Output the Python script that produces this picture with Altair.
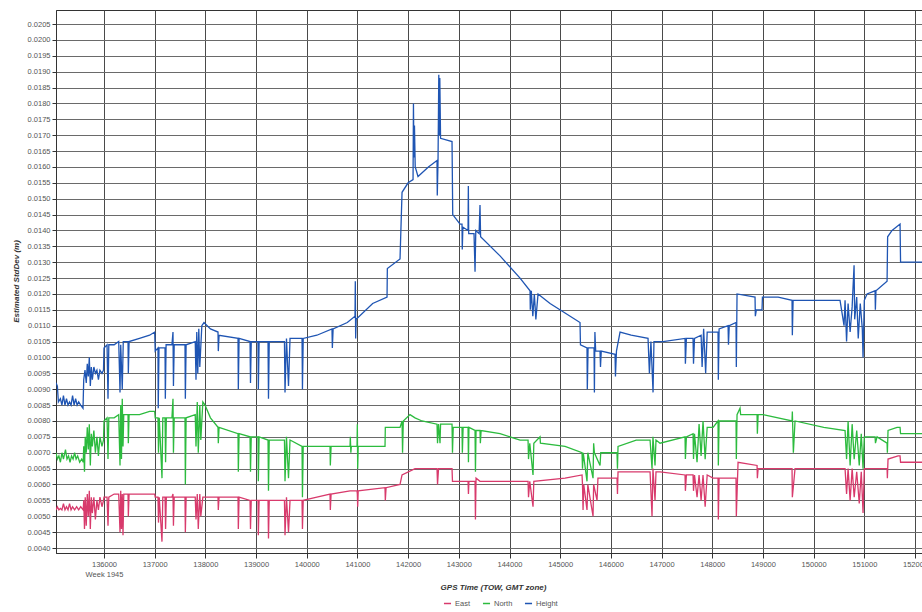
import altair as alt
import pandas as pd

# GPS time of week (s) and estimated standard deviation (m)
height = [
    (135053, 0.0092), (135080, 0.0091), (135100, 0.0086), (135140, 0.0087), (135170, 0.0085),
    (135200, 0.0088), (135230, 0.0085), (135260, 0.0087), (135290, 0.0085), (135320, 0.0086),
    (135350, 0.0085), (135380, 0.0088), (135410, 0.0085), (135440, 0.0087), (135470, 0.0085),
    (135500, 0.0086), (135540, 0.0085), (135586, 0.0084), (135600, 0.0093), (135625, 0.0096),
    (135650, 0.0092), (135670, 0.0098), (135690, 0.0094), (135710, 0.0100), (135730, 0.0091),
    (135750, 0.0097), (135770, 0.0093), (135800, 0.0097), (135830, 0.0095), (135860, 0.0096),
    (135890, 0.0093), (135920, 0.0096), (135960, 0.0095), (135990, 0.0096), (136000, 0.0103),
    (136060, 0.0104), (136079, 0.0087), (136095, 0.0104), (136200, 0.0104), (136290, 0.0105),
    (136316, 0.0089), (136330, 0.0104), (136360, 0.0090), (136380, 0.0105), (136474, 0.0105),
    (136480, 0.0095), (136495, 0.0105), (136700, 0.0106), (136900, 0.0107), (137000, 0.0108),
    (137010, 0.0102), (137065, 0.0103), (137070, 0.0084), (137085, 0.0103), (137204, 0.0103),
    (137210, 0.0087), (137225, 0.0104), (137340, 0.0104), (137361, 0.0108), (137370, 0.0091),
    (137385, 0.0104), (137598, 0.0104), (137605, 0.0087), (137620, 0.0104), (137800, 0.0105),
    (137815, 0.0093), (137830, 0.0108), (137850, 0.0095), (137870, 0.0109), (137890, 0.0097),
    (137930, 0.0110), (137973, 0.0111), (138100, 0.0109), (138249, 0.0108), (138255, 0.0102),
    (138270, 0.0107), (138644, 0.0106), (138650, 0.0090), (138665, 0.0106), (138881, 0.0105),
    (138890, 0.0092), (138905, 0.0105), (139038, 0.0105), (139045, 0.0090), (139060, 0.0105),
    (139236, 0.0105), (139245, 0.0087), (139260, 0.0105), (139560, 0.0105), (139571, 0.0089),
    (139600, 0.0106), (139640, 0.0091), (139670, 0.0106), (139907, 0.0106), (139915, 0.0090),
    (139930, 0.0106), (140200, 0.0107), (140498, 0.0109), (140505, 0.0103), (140520, 0.0109),
    (140800, 0.0111), (140952, 0.0113), (140958, 0.0124), (140965, 0.0106), (140975, 0.0112),
    (141300, 0.0117), (141584, 0.0119), (141590, 0.0128), (141840, 0.0131), (141880, 0.0152),
    (142000, 0.0155), (142097, 0.0156), (142105, 0.0180), (142115, 0.0163), (142125, 0.0173),
    (142140, 0.0160), (142195, 0.0157), (142400, 0.0160), (142570, 0.0162), (142575, 0.0151),
    (142590, 0.0162), (142605, 0.0189), (142615, 0.0170), (142625, 0.0188), (142640, 0.0169),
    (142866, 0.0168), (142880, 0.0145), (143024, 0.0142), (143063, 0.0142), (143068, 0.0134),
    (143080, 0.0141), (143182, 0.0140), (143188, 0.0154), (143195, 0.0139), (143300, 0.0139),
    (143320, 0.0127), (143335, 0.0140), (143400, 0.0139), (143418, 0.0148), (143430, 0.0138),
    (143813, 0.0132), (144208, 0.0125), (144405, 0.0121), (144410, 0.0115), (144430, 0.0121),
    (144460, 0.0113), (144490, 0.0120), (144520, 0.0112), (144563, 0.0120), (144800, 0.0117),
    (145096, 0.0114), (145391, 0.0111), (145400, 0.0104), (145529, 0.0103), (145535, 0.0090),
    (145550, 0.0103), (145668, 0.0103), (145675, 0.0089), (145685, 0.0108), (145700, 0.0102),
    (145786, 0.0102), (145795, 0.0097), (145810, 0.0102), (146082, 0.0101), (146090, 0.0094),
    (146110, 0.0102), (146181, 0.0108), (146400, 0.0107), (146733, 0.0106), (146760, 0.0095),
    (146790, 0.0105), (146832, 0.0089), (146850, 0.0105), (147029, 0.0105), (147463, 0.0106),
    (147470, 0.0098), (147490, 0.0106), (147621, 0.0106), (147630, 0.0098), (147650, 0.0106),
    (147780, 0.0107), (147800, 0.0097), (147830, 0.0109), (147870, 0.0095), (147900, 0.0108),
    (147956, 0.0108), (148114, 0.0108), (148120, 0.0093), (148135, 0.0109), (148312, 0.0110),
    (148320, 0.0104), (148335, 0.0110), (148469, 0.0111), (148475, 0.0097), (148489, 0.0120),
    (148844, 0.0119), (148850, 0.0113), (148870, 0.0115), (148982, 0.0115), (148990, 0.0119),
    (149300, 0.0119), (149574, 0.0118), (149580, 0.0107), (149595, 0.0118), (150200, 0.0118),
    (150521, 0.0118), (150600, 0.0110), (150620, 0.0118), (150650, 0.0105), (150680, 0.0117),
    (150720, 0.0108), (150760, 0.0116), (150798, 0.0129), (150810, 0.0112), (150850, 0.0119),
    (150880, 0.0106), (150920, 0.0117), (150960, 0.0109), (150975, 0.0100), (151000, 0.0118),
    (151054, 0.0120), (151212, 0.0121), (151218, 0.0115), (151230, 0.0121), (151449, 0.0124),
    (151460, 0.0138), (151547, 0.0140), (151705, 0.0142), (151715, 0.0130), (152139, 0.0130),
]

north = [
    (135053, 0.0070), (135080, 0.0068), (135110, 0.0069), (135140, 0.0067), (135170, 0.0070),
    (135200, 0.0068), (135240, 0.0071), (135270, 0.0068), (135300, 0.0069), (135330, 0.0067),
    (135360, 0.0069), (135390, 0.0068), (135420, 0.0070), (135450, 0.0068), (135480, 0.0069),
    (135520, 0.0067), (135560, 0.0068), (135590, 0.0067), (135600, 0.0072), (135615, 0.0064),
    (135630, 0.0075), (135650, 0.0070), (135670, 0.0078), (135690, 0.0071), (135710, 0.0079),
    (135730, 0.0066), (135750, 0.0076), (135770, 0.0072), (135800, 0.0077), (135830, 0.0070),
    (135860, 0.0075), (135890, 0.0069), (135920, 0.0075), (135960, 0.0072), (135990, 0.0074),
    (136000, 0.0080), (136060, 0.0081), (136079, 0.0068), (136095, 0.0081), (136200, 0.0081),
    (136290, 0.0082), (136316, 0.0066), (136330, 0.0085), (136345, 0.0068), (136360, 0.0087),
    (136375, 0.0072), (136390, 0.0082), (136474, 0.0082), (136480, 0.0073), (136495, 0.0082),
    (136700, 0.0082), (136900, 0.0083), (137000, 0.0083), (137010, 0.0081), (137065, 0.0081),
    (137075, 0.0070), (137090, 0.0081), (137144, 0.0062), (137160, 0.0081), (137204, 0.0081),
    (137215, 0.0067), (137230, 0.0081), (137340, 0.0081), (137361, 0.0087), (137370, 0.0070),
    (137385, 0.0081), (137598, 0.0081), (137605, 0.0060), (137620, 0.0081), (137800, 0.0082),
    (137815, 0.0072), (137840, 0.0086), (137860, 0.0070), (137890, 0.0085), (137910, 0.0074),
    (137950, 0.0086), (137993, 0.0085), (138100, 0.0081), (138249, 0.0078), (138255, 0.0073),
    (138270, 0.0078), (138644, 0.0076), (138650, 0.0064), (138665, 0.0076), (138881, 0.0075),
    (138890, 0.0064), (138905, 0.0075), (139038, 0.0075), (139045, 0.0061), (139060, 0.0075),
    (139236, 0.0074), (139245, 0.0058), (139260, 0.0074), (139560, 0.0074), (139571, 0.0061),
    (139600, 0.0075), (139640, 0.0062), (139670, 0.0074), (139907, 0.0072), (139915, 0.0056),
    (139930, 0.0072), (140200, 0.0072), (140459, 0.0072), (140465, 0.0066), (140480, 0.0072),
    (140854, 0.0072), (140860, 0.0075), (140870, 0.0070), (140880, 0.0072), (140992, 0.0072),
    (140998, 0.0079), (141005, 0.0065), (141015, 0.0072), (141544, 0.0072), (141550, 0.0078),
    (141840, 0.0078), (141880, 0.0080), (141890, 0.0070), (141905, 0.0080), (142037, 0.0082),
    (142136, 0.0081), (142274, 0.0080), (142570, 0.0079), (142580, 0.0073), (142600, 0.0079),
    (142629, 0.0073), (142640, 0.0079), (142866, 0.0079), (142875, 0.0070), (142890, 0.0078),
    (143063, 0.0078), (143070, 0.0070), (143085, 0.0078), (143182, 0.0078), (143190, 0.0067),
    (143200, 0.0078), (143320, 0.0077), (143328, 0.0064), (143340, 0.0077), (143418, 0.0077),
    (143425, 0.0073), (143440, 0.0077), (143813, 0.0076), (144208, 0.0074), (144366, 0.0074),
    (144375, 0.0068), (144400, 0.0073), (144464, 0.0063), (144480, 0.0073), (144602, 0.0075),
    (144610, 0.0073), (145096, 0.0072), (145431, 0.0070), (145440, 0.0065), (145455, 0.0070),
    (145529, 0.0061), (145545, 0.0070), (145648, 0.0062), (145660, 0.0073), (145675, 0.0070),
    (145786, 0.0066), (145800, 0.0070), (146121, 0.0070), (146130, 0.0065), (146141, 0.0072),
    (146500, 0.0074), (146773, 0.0074), (146812, 0.0065), (146830, 0.0075), (146871, 0.0066),
    (146890, 0.0074), (146970, 0.0073), (147463, 0.0075), (147470, 0.0068), (147490, 0.0075),
    (147621, 0.0076), (147630, 0.0068), (147650, 0.0076), (147700, 0.0067), (147740, 0.0079),
    (147780, 0.0069), (147818, 0.0080), (147860, 0.0068), (147900, 0.0078), (148016, 0.0078),
    (148114, 0.0080), (148120, 0.0066), (148135, 0.0080), (148312, 0.0080), (148469, 0.0080),
    (148475, 0.0068), (148489, 0.0082), (148548, 0.0084), (148560, 0.0082), (148884, 0.0082),
    (148890, 0.0076), (148905, 0.0082), (149002, 0.0082), (149574, 0.0080), (149580, 0.0083),
    (149600, 0.0070), (149633, 0.0080), (150200, 0.0078), (150620, 0.0077), (150650, 0.0068),
    (150680, 0.0080), (150720, 0.0066), (150760, 0.0079), (150800, 0.0068), (150850, 0.0077),
    (150900, 0.0066), (150940, 0.0076), (150975, 0.0065), (151000, 0.0075), (151054, 0.0075),
    (151212, 0.0075), (151220, 0.0073), (151251, 0.0075), (151449, 0.0073), (151455, 0.0070),
    (151468, 0.0077), (151646, 0.0078), (151705, 0.0078), (151715, 0.0076), (152139, 0.0076),
]

east = [
    (135053, 0.0052), (135080, 0.0053), (135110, 0.0052), (135140, 0.00525), (135170, 0.0052),
    (135200, 0.0054), (135230, 0.0052), (135260, 0.0053), (135290, 0.0052), (135320, 0.0054),
    (135350, 0.0052), (135380, 0.0053), (135420, 0.0052), (135460, 0.0053), (135500, 0.0052),
    (135540, 0.0053), (135590, 0.0052), (135600, 0.0055), (135615, 0.0046), (135630, 0.0056),
    (135650, 0.0047), (135670, 0.0057), (135690, 0.0050), (135710, 0.0058), (135730, 0.0046),
    (135750, 0.0056), (135770, 0.0051), (135800, 0.0056), (135830, 0.0049), (135860, 0.0055),
    (135890, 0.0052), (135920, 0.0056), (135960, 0.0053), (135990, 0.0055), (136000, 0.0056),
    (136060, 0.0056), (136079, 0.0047), (136095, 0.0056), (136200, 0.0057), (136290, 0.0057),
    (136316, 0.0045), (136330, 0.0058), (136345, 0.0046), (136360, 0.0057), (136375, 0.0044),
    (136390, 0.0057), (136474, 0.0057), (136480, 0.0050), (136495, 0.0057), (137000, 0.0057),
    (137010, 0.0056), (137065, 0.0056), (137075, 0.0048), (137090, 0.0056), (137144, 0.0042),
    (137160, 0.0056), (137204, 0.0056), (137215, 0.0046), (137230, 0.0056), (137340, 0.0056),
    (137361, 0.0057), (137370, 0.0047), (137385, 0.0056), (137598, 0.0056), (137605, 0.0045),
    (137620, 0.0056), (137800, 0.0056), (137815, 0.0049), (137840, 0.0057), (137860, 0.0046),
    (137890, 0.0057), (137910, 0.0050), (137950, 0.0056), (137993, 0.0056), (138249, 0.0056),
    (138255, 0.0052), (138270, 0.0056), (138644, 0.0056), (138650, 0.0046), (138665, 0.0056),
    (138881, 0.0055), (138890, 0.0046), (138905, 0.0055), (139038, 0.0055), (139045, 0.0044),
    (139060, 0.0055), (139236, 0.0055), (139245, 0.0043), (139260, 0.0055), (139560, 0.0055),
    (139571, 0.0044), (139600, 0.0056), (139640, 0.0045), (139670, 0.0055), (139907, 0.0055),
    (139915, 0.0046), (139930, 0.0055), (140200, 0.0056), (140459, 0.0057), (140465, 0.0052),
    (140480, 0.0057), (140854, 0.0058), (140992, 0.0058), (140998, 0.0057), (141005, 0.0053),
    (141015, 0.0058), (141544, 0.0059), (141550, 0.0055), (141565, 0.0059), (141840, 0.0060),
    (141880, 0.0063), (142136, 0.0065), (142570, 0.0065), (142580, 0.0060), (142600, 0.0065),
    (142866, 0.0065), (142875, 0.0061), (143063, 0.0061), (143182, 0.0061), (143190, 0.0057),
    (143200, 0.0061), (143320, 0.0061), (143328, 0.0049), (143340, 0.0062), (143418, 0.0061),
    (143813, 0.0061), (144366, 0.0061), (144375, 0.0056), (144400, 0.0061), (144464, 0.0053),
    (144480, 0.0061), (145096, 0.0062), (145431, 0.0063), (145440, 0.0060), (145451, 0.0052),
    (145465, 0.0060), (145529, 0.0052), (145545, 0.0060), (145648, 0.0050), (145660, 0.0060),
    (145727, 0.0055), (145745, 0.0062), (146121, 0.0062), (146130, 0.0057), (146141, 0.0064),
    (146773, 0.0064), (146812, 0.0050), (146830, 0.0065), (146871, 0.0055), (146890, 0.0064),
    (146970, 0.0064), (147463, 0.0063), (147470, 0.0058), (147490, 0.0063), (147621, 0.0063),
    (147630, 0.0058), (147650, 0.0063), (147700, 0.0056), (147740, 0.0063), (147780, 0.0055),
    (147818, 0.0063), (147860, 0.0053), (147900, 0.0063), (148016, 0.0062), (148114, 0.0062),
    (148120, 0.0049), (148135, 0.0062), (148469, 0.0062), (148475, 0.0050), (148509, 0.0067),
    (148884, 0.0066), (148890, 0.0062), (148905, 0.0065), (149002, 0.0065), (149574, 0.0065),
    (149580, 0.0056), (149633, 0.0065), (150620, 0.0065), (150650, 0.0057), (150680, 0.0065),
    (150720, 0.0055), (150760, 0.0065), (150800, 0.0056), (150850, 0.0064), (150900, 0.0054),
    (150940, 0.0064), (150975, 0.0051), (151000, 0.0065), (151054, 0.0065), (151449, 0.0065),
    (151455, 0.0062), (151468, 0.0068), (151666, 0.0069), (151705, 0.0069), (151715, 0.0067),
    (152139, 0.0067),
]

series_names = ["East", "North", "Height"]
series_colors = ["#d83a6c", "#2cbb3e", "#1f55b3"]
x_ticks = list(range(136000, 153000, 1000))
y_ticks = [round(0.0040 + 0.0005 * k, 4) for k in range(34)]

rows = []
for name, pts in zip(series_names, [east, north, height]):
    for i, (t, v) in enumerate(pts):
        rows.append({"t": t, "v": v, "series": name, "i": i})
df = pd.DataFrame(rows)

FONT = "Liberation Sans"

chart = (
    alt.Chart(df)
    .mark_line(strokeWidth=1.3, clip=True)
    .encode(
        x=alt.X(
            "t:Q",
            scale=alt.Scale(domain=[135053, 152138], nice=False, zero=False),
            axis=alt.Axis(
                title="GPS Time (TOW, GMT zone)",
                values=x_ticks,
                format="d",
                labelExpr="datum.value == 136000 ? ['136000', 'Week 1945'] : datum.label",
                labelLineHeight=10,
                labelFontSize=7.5,
                labelColor="#555555",
                labelPadding=2,
                labelBound=False,
                labelOverlap=False,
                labelFlush=False,
                tickSize=5,
                tickColor="#333333",
                domainColor="#333333",
                grid=True,
                gridColor="#4a4a4a",
                gridWidth=1,
                titleFontSize=8,
                titleFontStyle="italic",
                titleFontWeight="bold",
                titleColor="#333333",
                titleX=437,
                titleY=30,
                titleBaseline="top",
            ),
        ),
        y=alt.Y(
            "v:Q",
            scale=alt.Scale(domain=[0.003843, 0.020941], nice=False, zero=False),
            axis=alt.Axis(
                title="Estimated StdDev (m)",
                values=y_ticks,
                format=".4f",
                labelFontSize=7.5,
                labelColor="#555555",
                labelPadding=2,
                labelBound=False,
                labelOverlap=False,
                labelFlush=False,
                tickSize=4,
                tickColor="#333333",
                domainColor="#333333",
                grid=True,
                gridColor="#6a6a6a",
                gridWidth=1,
                titleFontSize=8,
                titleFontStyle="italic",
                titleFontWeight="bold",
                titleColor="#333333",
                titleX=-40,
                titleY=271,
                titleBaseline="middle",
                titleAngle=270,
            ),
        ),
        color=alt.Color(
            "series:N",
            scale=alt.Scale(domain=series_names, range=series_colors),
            legend=alt.Legend(
                title=None,
                orient="none",
                legendX=387,
                legendY=589,
                direction="horizontal",
                symbolType="stroke",
                symbolStrokeWidth=1.5,
                symbolSize=50,
                labelFontSize=7.5,
                labelColor="#555555",
                columnPadding=8,
                labelOffset=3,
            ),
        ),
        order=alt.Order("i:Q"),
    )
    .properties(
        width=866,
        height=543,
        autosize=alt.AutoSizeParams(type="none"),
        padding={"left": 56, "top": 10, "right": 0, "bottom": 59},
        background="white",
    )
    .configure(font=FONT)
    .configure_view(stroke="#333333", strokeWidth=1)
)

chart.save("out.html", embed_options={"renderer": "svg", "actions": False})
